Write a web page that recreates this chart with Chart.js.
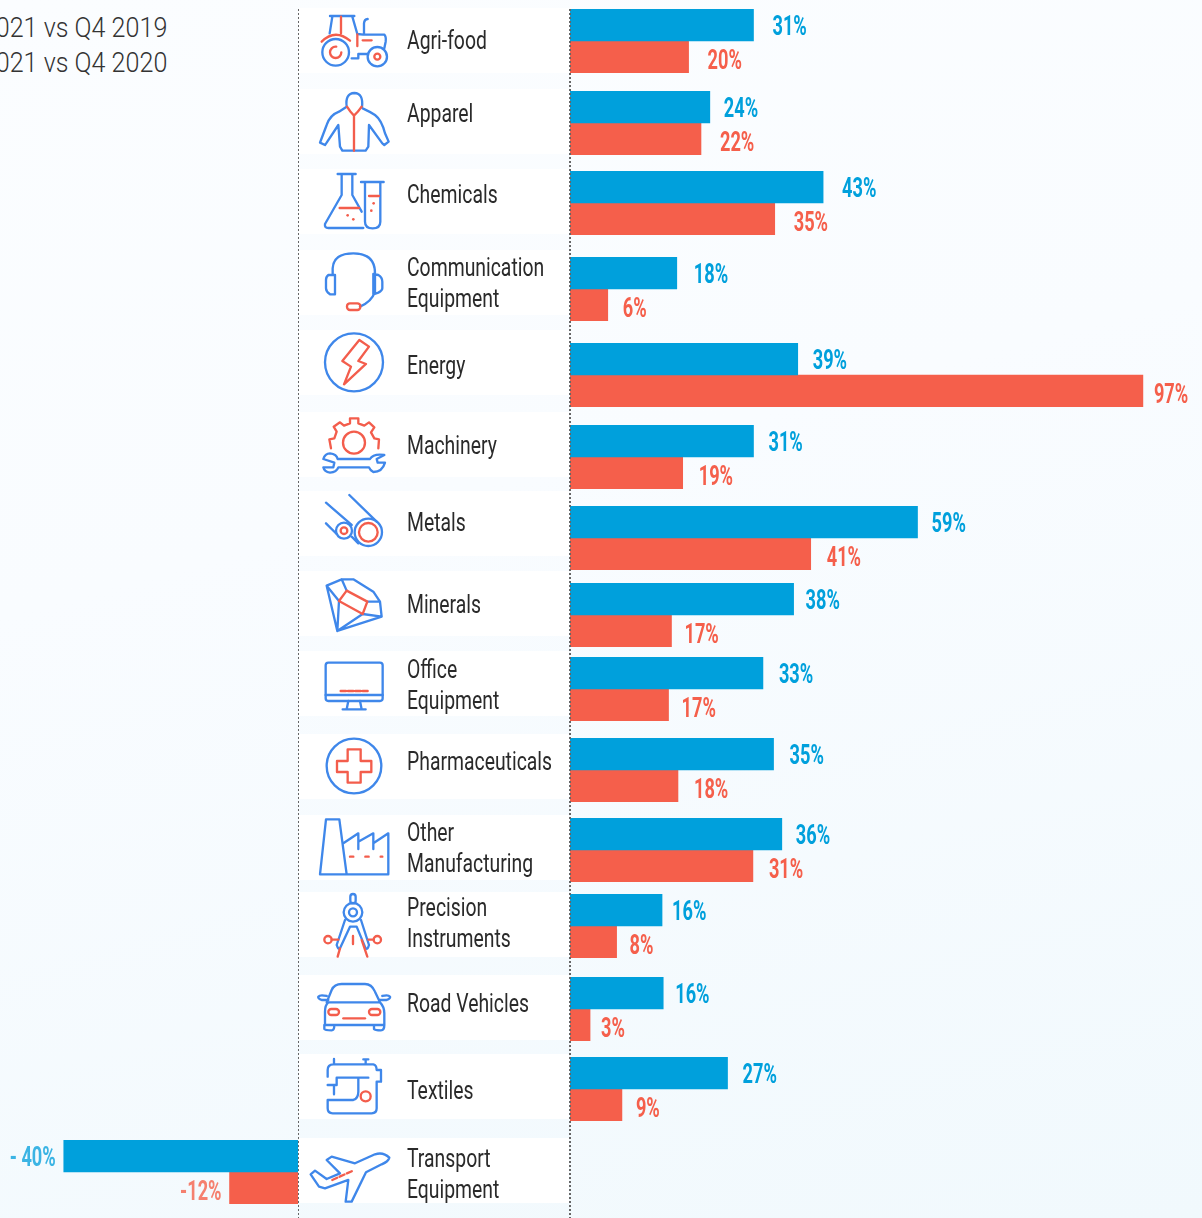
<!DOCTYPE html>
<html>
<head>
<meta charset="utf-8">
<script src="https://cdn.jsdelivr.net/npm/chart.js@4"></script>
<style>
  html, body { margin: 0; padding: 0; }
  body {
    position: relative; width: 1202px; height: 1218px; overflow: hidden;
    background: linear-gradient(165deg, #fbfdff 0%, #f9fcff 40%, #f1f9fd 100%);
  }
  .band { position: absolute; left: 299px; width: 270px; height: 65px; background: #fff; }
  .rule {
    position: absolute; top: 9px; bottom: 0; width: 1.5px; z-index: 5;
    background: repeating-linear-gradient(to bottom, #666 0 2px, transparent 2px 4px);
  }
  canvas { position: absolute; z-index: 2; }
  .cat {
    position: absolute; left: 407px; z-index: 3; color: #2a2a2a; white-space: pre;
    font: 400 26px/31px "Roboto"; transform-origin: left center;
    transform: scaleX(0.745);
  }
  .legend {
    position: absolute; right: 1035px; color: #333; white-space: nowrap;
    font: 300 27px/35px "Roboto"; transform-origin: right center; transform: scaleX(0.93);
  }
  #icons { position: absolute; left: 0; top: 0; z-index: 3; }
  #icons .b { fill: none; stroke: #3f87ea; stroke-width: 7; stroke-linecap: round; stroke-linejoin: round; }
  #icons .r { fill: none; stroke: #f35d4c; stroke-width: 7; stroke-linecap: round; stroke-linejoin: round; }
  #icons .d { fill: #f35d4c; }
</style>
</head>
<body>
<div class="legend" style="top:11px">Q4 2021 vs Q4 2019</div>
<div class="legend" style="top:46px">Q4 2021 vs Q4 2020</div>
<div class="rule" style="left:297.5px"></div>
<div class="rule" style="left:569px"></div>

<svg id="icons" width="1202" height="1218">
  <g transform="translate(295,0) scale(0.3333)">
    <path class="b" d="M105 48H178M112 50L104 100M172 50L187 102L205 104H268Q274 110 272 125L268 145M207 102V70Q208 58 218 57M170 175H190V162H218"/>
    <circle class="b" cx="122" cy="157" r="40"/><circle class="b" cx="247" cy="170" r="29"/>
    <path class="r" d="M138 50V100M80 125Q120 85 165 122M187 103V138M203 121H230"/>
    <circle class="r" cx="122" cy="157" r="17" stroke-dasharray="80 27"/><circle class="r" cx="247" cy="170" r="9"/>
    <path class="b" d="M155 320L132 335Q105 345 95 375L78 420L75 428L90 435L95 428L130 375L135 440L142 452H212L220 440L222 375L262 430L268 435L281 425L270 400Q260 360 240 345Q225 335 203 325M155 320Q150 280 178 279Q206 280 201 322"/>
    <path class="r" d="M156 320Q165 335 177 347Q190 335 200 320M177 347V452"/>
  </g>
  <g transform="translate(295,160) scale(0.3333)">
    <path class="b" d="M128 42H182M140 42V105L90 192Q88 204 100 204H205M172 42V105L200 155M198 66H266M210 66V185Q210 205 233 205Q256 205 256 185V66"/>
    <path class="r" d="M134 144H192M222 108H252"/>
    <circle class="d" cx="158" cy="166" r="4"/><circle class="d" cx="175" cy="178" r="4"/><circle class="d" cx="236" cy="130" r="4"/><circle class="d" cx="229" cy="152" r="4"/>
    <path class="b" d="M113 345V325Q115 280 175 280Q240 280 240 340V395Q230 425 195 440M120 345H100Q93 350 93 360V385Q93 395 105 403H120ZM235 342L250 345Q262 352 262 365V385Q262 392 250 398L235 403Z"/>
    <rect class="r" x="156" y="430" width="40" height="20" rx="9"/>
    <circle class="b" cx="177" cy="607" r="87"/>
    <path class="r" d="M193 540L222 560L190 603L213 612L147 673L168 620L142 603Z"/>
  </g>
  <g transform="translate(295,410) scale(0.3333)">
    <path class="r" d="M108 115L103 88L118 85L125 65L116 50L135 37L147 47L165 40V25H190V40L208 47L222 37L238 52L228 67L238 85L252 88L250 115"/>
    <circle class="r" cx="177" cy="98" r="33"/>
    <path class="b" d="M128 147H225Q235 130 268 135L245 147L248 158H270Q262 186 235 186Q225 180 222 172H130Q125 186 105 188Q88 186 85 172H115L118 158L85 147Q90 130 105 130Q125 132 128 147Z"/>
    <path class="b" d="M93 278L170 345M93 340L125 372M163 255L245 335M170 380L190 400"/>
    <circle class="b" cx="147" cy="362" r="24"/><circle class="b" cx="220" cy="367" r="41"/>
    <circle class="r" cx="147" cy="362" r="10"/><circle class="r" cx="220" cy="367" r="28"/>
    <path class="b" d="M95 527L140 508H175L235 545L255 575L260 620L127 663ZM140 508L155 542M95 527L132 573L127 663M218 575H255M203 612L260 620M203 612L127 663"/>
    <path class="r" d="M155 542L217 575L203 612L132 573Z"/>
  </g>
  <g transform="translate(295,650) scale(0.3333)">
    <rect class="b" x="92" y="38" width="171" height="115" rx="8"/>
    <path class="b" d="M92 135H263M160 153L155 178M195 153L200 178M143 178H212"/>
    <path class="r" d="M137 123H218" stroke-dasharray="16 6" stroke-linecap="butt"/>
    <circle class="b" cx="177" cy="348" r="82"/>
    <path class="r" d="M158 298H197V333H229V366H197V398H158V366H126V333H158Z"/>
    <path class="b" d="M93 508H133L155 673H75ZM155 673H280V550L235 580V550L190 575V550L145 580M190 550V597M235 550V597"/>
    <path class="r" d="M165 620H262" stroke-dasharray="10 36"/>
  </g>
  <g transform="translate(295,885) scale(0.3333)">
    <rect class="b" x="166" y="27" width="16" height="28" rx="8"/>
    <circle class="b" cx="174" cy="82" r="28"/><circle class="b" cx="174" cy="82" r="12"/>
    <path class="b" d="M150 105L125 180Q130 195 135 190L165 125H185L212 190Q218 195 222 180L198 105"/>
    <circle class="r" cx="99" cy="164" r="11"/><circle class="r" cx="247" cy="164" r="11"/>
    <path class="r" d="M110 164H130M220 164H236M174 153V177M135 190L128 215M200 165L217 215"/>
    <path class="b" d="M95 352L110 315Q118 297 140 297H210Q230 297 240 320L255 352Q268 365 268 385V420H90V380Q90 360 100 352ZM100 352H255M100 345H80Q68 340 70 335Q75 328 95 333M255 345H275Q287 340 285 335Q280 328 262 333M88 420V432Q90 436 110 436Q118 436 118 420M237 420V432Q240 436 258 436Q268 436 268 420"/>
    <rect class="r" x="100" y="372" width="32" height="18" rx="9"/><rect class="r" x="222" y="372" width="34" height="18" rx="9"/>
    <path class="r" d="M145 400H210"/>
    <path class="b" d="M98 575V555Q98 538 115 538H235Q245 540 245 555H258V590H245V670Q245 685 230 685H113Q98 685 98 670V645H175Q190 640 190 620V582M98 600H125V578H220M117 600V628M117 522V538M205 523H220M212 523V538"/>
    <circle class="r" cx="212" cy="634" r="15"/>
    <path class="b" d="M47 868L60 857L95 882L135 865L95 825L110 815L180 835L240 808Q265 800 283 818Q280 830 260 838L213 862L170 950L152 950L160 885L90 910L72 905Z"/>
    <path class="r" d="M112 885L172 858" stroke-dasharray="16 8" stroke-linecap="butt"/>
  </g>
</svg>

<script>
// data
const categories = ["Agri-food", "Apparel", "Chemicals", "Communication\nEquipment", "Energy", "Machinery", "Metals", "Minerals",
  "Office\nEquipment", "Pharmaceuticals", "Other\nManufacturing", "Precision\nInstruments", "Road Vehicles", "Textiles", "Transport\nEquipment"];
const vs2019 = [31.1, 23.7, 42.9, 18.1, 38.6, 31.1, 58.9, 37.9, 32.7, 34.5, 35.9, 15.6, 15.8, 26.7, -39.7];
const vs2020 = [20.1, 22.2, 34.7, 6.4, 97.1, 19.1, 40.8, 17.2, 16.7, 18.3, 31.0, 7.9, 3.4, 8.8, -11.6];

// layout of the rows, which are not evenly spaced in the original
const bandTops = [8, 89, 169, 250, 330, 412, 491, 571, 651, 734, 815, 892, 975, 1054, 1138];
const barTops = [9, 91, 171, 257, 343, 425, 506, 583, 657, 738, 818, 894, 977, 1057, 1140];
const catCentres = [40, 113, 194, 283, 365, 445, 522, 604, 685, 761, 848, 923, 1003, 1090, 1174];
const gaps2019 = [19, 14, 19, 17, 15, 15, 14, 12, 16, 16, 14, 10, 12, 15];
const gaps2020 = [19, 19, 19, 15, 11, 16, 16, 13, 13, 16, 16, 13, 11, 14];

const BLUE = "#00a0dc";
const RED = "#f55f4b";
const PX_PER_UNIT = 5.9;
const ROW_H = 64;

// draws the percent next to the end of each bar
const valueLabels = {
  id: "valueLabels",
  afterDatasetsDraw(chart) {
    const ctx = chart.ctx;
    chart.data.datasets.forEach((ds, i) => {
      const bar = chart.getDatasetMeta(i).data[0];
      const val = ds.data[0];
      const neg = val < 0;
      const text = (neg && i == 0 ? "- " : neg ? "-" : "") + Math.abs(Math.round(val)) + "%";
      ctx.save();
      ctx.font = 'bold 28px Roboto';
      ctx.textBaseline = "middle";
      ctx.textAlign = neg ? "right" : "left";
      ctx.fillStyle = neg ? ds.labelColor : ds.backgroundColor;
      const x = neg ? bar.x - 8 : bar.x + ds.labelGap;
      ctx.translate(x, bar.y + (i == 0 ? 3 : 5));
      ctx.scale(0.65, 1);
      ctx.fillText(text, 0, 0);
      ctx.restore();
    });
  },
};

function addRowChart(i) {
  const neg = vs2019[i] < 0;
  const width = neg ? 298 : 632;
  const canvas = document.createElement("canvas");
  canvas.style.left = (neg ? 0 : 570) + "px";
  canvas.style.top = barTops[i] + "px";
  canvas.width = width;
  canvas.height = ROW_H;
  document.body.appendChild(canvas);
  new Chart(canvas.getContext("2d"), {
    type: "bar",
    data: {
      labels: [categories[i].replace("\n", " ")],
      datasets: [
        { label: "Q4 2021 vs Q4 2019", data: [vs2019[i]], backgroundColor: BLUE, labelColor: "#3bb4e4", labelGap: gaps2019[i] },
        { label: "Q4 2021 vs Q4 2020", data: [vs2020[i]], backgroundColor: RED, labelColor: "#f5806f", labelGap: gaps2020[i] },
      ],
    },
    options: {
      indexAxis: "y",
      responsive: false,
      animation: false,
      layout: { padding: 0 },
      barPercentage: 1,
      categoryPercentage: 1,
      scales: {
        x: { display: false, min: neg ? -width / PX_PER_UNIT : 0, max: neg ? 0 : width / PX_PER_UNIT },
        y: { display: false },
      },
      plugins: { legend: { display: false }, tooltip: { enabled: false } },
    },
    plugins: [valueLabels],
  });
}

categories.forEach((name, i) => {
  const band = document.createElement("div");
  band.className = "band";
  band.style.top = bandTops[i] + "px";
  document.body.appendChild(band);

  const cat = document.createElement("div");
  cat.className = "cat";
  cat.textContent = name;
  cat.style.top = (catCentres[i] - (name.includes("\n") ? 31 : 15.5)) + "px";
  document.body.appendChild(cat);

  addRowChart(i);
});
</script>
</body>
</html>
